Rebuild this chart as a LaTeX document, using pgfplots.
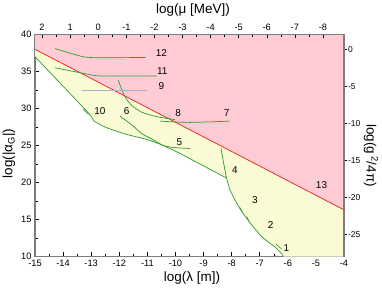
\documentclass[border=0pt]{standalone}
\usepackage{pgfplots}
\pgfplotsset{compat=1.18}
\usepackage{fontspec}
\setmainfont{Liberation Sans}
\definecolor{pinkfill}{RGB}{255,204,213}
\definecolor{yelfill}{RGB}{250,250,213}
\definecolor{cgreen}{RGB}{45,155,45}
\definecolor{cred}{RGB}{235,25,25}
\definecolor{cblue}{RGB}{165,175,210}
\definecolor{axgray}{RGB}{125,125,125}
\pgfplotsset{
  common/.style={
    at={(0,0)}, anchor=south west,
    scale only axis, width=309bp, height=222bp,
    /pgf/number format/assume math mode=true,
    tick label style={font=\fontsize{9.3}{10}\selectfont},
    axis line style={axgray, line width=1.1bp},
    tick style={black, line width=0.5bp},
    major tick length=4bp, minor tick length=2.5bp,
  }
}
\begin{document}
\begin{tikzpicture}
\useasboundingbox (-35bp,-37.5bp) rectangle (347bp,256.5bp);
% main axis
\begin{axis}[common,
  xmin=-15, xmax=-4, ymin=10, ymax=40,
  xtick={-15,-14,...,-4}, ytick={10,15,...,40},
  minor y tick num=1, minor x tick num=1,
  xtick pos=bottom, ytick pos=left, tick align=inside,
  clip=true,
]
% pink region
\addplot[fill=pinkfill, draw=none] coordinates {(-15,38.0) (-4,16.3) (-4,40) (-15,40)} -- cycle;
% yellow region
\addplot[fill=yelfill, draw=none] coordinates {
 (-15,38.0) (-4,16.3) (-4,10) (-6.16,10.0) (-6.22,10.4) (-6.46,11.3) (-6.88,12.5)
 (-7.23,14.0) (-7.59,15.8) (-7.82,17.2) (-8.06,19.0) (-8.18,20.6) (-9.13,22.5)
 (-9.72,23.7) (-10.43,25.0) (-11.0,25.8) (-11.74,26.5) (-12.45,27.4) (-12.9,28.3)
 (-13.1,29.4) (-15,37.0)} -- cycle;
% red line
\addplot[cred, line width=0.7bp] coordinates {(-15,38.0) (-4,16.3)};
% envelope (10, 4, 3, 2, 1)
\addplot[cgreen, line width=0.7bp, smooth, tension=0.3] coordinates {
 (-15,37.0) (-13.1,29.4) (-12.9,28.3) (-12.45,27.4) (-11.74,26.5) (-11.0,25.8)
 (-10.43,25.0) (-9.72,23.7) (-9.13,22.5) (-8.18,20.6)};
\addplot[cgreen, line width=0.7bp, smooth, tension=0.3] coordinates {
 (-8.38,24.6) (-8.24,21.7) (-8.18,20.6) (-8.06,19.0) (-7.82,17.2) (-7.59,15.8)
 (-7.23,14.0) (-6.88,12.5) (-6.46,11.3) (-6.22,10.4) (-6.16,10.0)};
% small tick marks on envelope
\addplot[cgreen, line width=0.6bp] coordinates {(-7.72,16.7) (-7.62,16.0)};
\addplot[cgreen, line width=0.6bp] coordinates {(-7.46,15.4) (-7.38,14.7)};
\addplot[cgreen, line width=0.6bp] coordinates {(-6.42,11.7) (-6.22,11.0)};
\addplot[cgreen, line width=0.6bp] coordinates {(-13.3,30.0) (-13.1,29.2)};
% curve 6/5
\addplot[cgreen, line width=0.7bp, smooth, tension=0.4] coordinates {
 (-11.98,29.0) (-11.56,27.8) (-11.2,26.6) (-10.9,26.0) (-10.43,25.0) (-10.0,24.7) (-9.48,24.6)};
% curve 8 (steep)
\addplot[cgreen, line width=0.7bp, smooth, tension=0.4] coordinates {
 (-12.04,33.85) (-11.8,31.6) (-11.55,30.4) (-11.2,29.5) (-10.67,28.9) (-10.02,28.5)};
% curve 7
\addplot[cgreen, line width=0.7bp, smooth] coordinates {
 (-10.55,28.3) (-9.5,28.12) (-8.06,28.3)};
% curve 12
\addplot[cgreen, line width=0.7bp, smooth, tension=0.3] coordinates {
 (-14.29,38.1) (-13.3,37.0) (-12.7,36.85) (-11.06,36.9)};
% curve 11
\addplot[cgreen, line width=0.7bp, smooth, tension=0.3] coordinates {
 (-14.29,35.5) (-13.28,34.75) (-12.69,34.4) (-10.67,34.4)};
% curve 9
\addplot[cblue, line width=1.4bp] coordinates {(-13.34,32.45) (-11.03,32.45)};
% labels
\pgfplotsset{every node/.append style={font=\fontsize{10.5}{11}\selectfont}}
\node at (axis cs:-10.5,37.5) {12};
\node at (axis cs:-10.47,35.0) {11};
\node at (axis cs:-10.5,33.0) {9};
\node at (axis cs:-12.69,29.6) {10};
\node at (axis cs:-11.74,29.6) {6};
\node at (axis cs:-9.9,29.4) {8};
\node at (axis cs:-8.18,29.4) {7};
\node at (axis cs:-9.86,25.5) {5};
\node at (axis cs:-7.88,21.7) {4};
\node at (axis cs:-7.17,17.6) {3};
\node at (axis cs:-6.61,14.3) {2};
\node at (axis cs:-6.05,11.1) {1};
\node at (axis cs:-4.8,19.7) {13};
\end{axis}
% top axis
\begin{axis}[common,
  x dir=reverse, xmin=-8.75, xmax=2.25, ymin=0, ymax=1,
  axis x line*=top, axis y line=none,
  xtick={-8,-7,...,2}, minor x tick num=1,
  tick align=inside,
]
\end{axis}
% right axis
\begin{axis}[common,
  xmin=0, xmax=1, ymin=-28, ymax=2,
  axis y line*=right, axis x line=none,
  ytick={-25,-20,...,0},
  tick align=outside, major tick length=2.5bp,
  yticklabel style={font=\fontsize{8.5}{10}\selectfont, xshift=-2bp},
]
\end{axis}
% axis titles
\begin{scope}[every node/.style={font=\fontsize{13.5}{15}\selectfont, inner sep=0pt}]
\node at (157bp,-21.5bp) {log(λ [m])};
\node at (158bp,246.5bp) {log(μ [MeV])};
\node[rotate=90] at (-26bp,103bp) {log(|α\textsubscript{G}|)};
\node[rotate=-90] at (336bp,101bp) {log(g\,\textsuperscript{2}/4π)};
\end{scope}
\end{tikzpicture}
\end{document}
